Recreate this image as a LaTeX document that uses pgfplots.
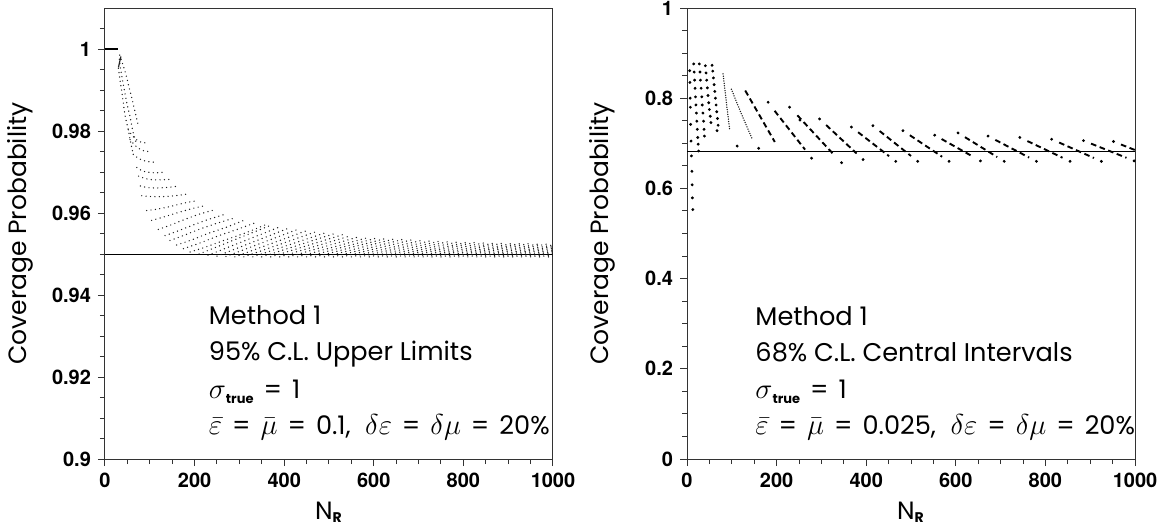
\documentclass[border=0pt]{standalone}
\usepackage{fontspec}
\setmainfont{Poppins}
\newfontfamily\tickfont{TeX Gyre Heros}
\usepackage{pgfplots}
\pgfplotsset{compat=1.18}

\pgfplotsset{
  cov/.style={
    scale only axis, width=224pt, height=225.5pt,
    xmin=0, xmax=1000,
    xtick={0,200,400,600,800,1000},
    xticklabels={0,200,400,600,800,1000},
    minor x tick num=3,
    tick pos=left, tick align=outside,
    major tick length=3.5pt, minor tick length=2.5pt,
    axis line style={black!80, line width=0.5pt},
    tick style={black!80, line width=0.5pt},
    tick label style={font=\tickfont\fontsize{10}{11}\selectfont\bfseries},
    label style={font=\fontsize{12.5}{14}\selectfont},
    xlabel={N\textsubscript{\bfseries\fontsize{7}{8}\selectfont R}},
    ylabel={Coverage Probability},
    xlabel style={at={(axis description cs:0.5,-0.118)}, anchor=center},
    ylabel style={at={(axis description cs:-0.19,0.5)}, anchor=center},
    unbounded coords=jump,
    clip mode=individual,
  },
}
\tikzset{
  dotL/.style={black!90, line width=0.7pt, line cap=round, dash pattern=on 0pt off 2.2pt},
  dotR/.style={black!90, line width=0.75pt, line cap=round, dash pattern=on 0pt off 1.2pt},
  dashR/.style={black, line width=0.95pt, dash pattern=on 2.8pt off 1.8pt},
  annot/.style={anchor=base west, inner sep=0pt, font=\fontsize{12.8}{14}\selectfont},
}
\pgfplotsset{markR/.style={only marks, mark=*, mark size=0.5pt, black}}
\newcommand{\eq}{\hspace{0.39em}=\hspace{0.39em}}
\newcommand{\gm}[1]{{\fontsize{14.5}{15}\selectfont$#1$}}
\newcommand{\sigtrue}{\gm{\sigma}\raisebox{-0.35ex}{\bfseries\fontsize{6.5}{7}\selectfont true}}

\begin{document}
\begin{tikzpicture}
\useasboundingbox (-52.5pt,-36pt) rectangle (529pt,229.5pt);

% ---------------- left panel ----------------
\begin{axis}[cov, at={(0pt,0pt)}, anchor=south west,
  ymin=0.9, ymax=1.01,
  ytick={0.9,0.92,0.94,0.96,0.98,1},
  yticklabels={0.9,0.92,0.94,0.96,0.98,1},
  minor ytick={0.905,0.91,0.915,0.925,0.93,0.935,0.945,0.95,0.955,0.965,0.97,0.975,0.985,0.99,0.995,1.005},
]
\addplot[black, line width=0.5pt] coordinates {(0,0.95) (1000,0.95)};
\addplot[black, line width=0.6pt] coordinates {(0,1) (29,1)};
\addplot[black!85, line width=0.6pt] coordinates {(30,0.9955) (35.5,0.9982)};
% early band
\addplot[dotL, smooth] coordinates {(30,0.9953)(33.5,0.9924)(37,0.9900)(41,0.9868)(45,0.9836)(52,0.9803)(56,0.9779)(63,0.9743)};
\addplot[dotL, smooth] coordinates {(32,0.9975)(35,0.9950)(39,0.9925)(44,0.9895)(50,0.9862)(56,0.9835)(62,0.9800)(70,0.9770)};
\addplot[dotL, smooth] coordinates {(33,0.9985)(36,0.9975)(42,0.9955)(48,0.9932)(54,0.9905)(60,0.9880)(66,0.9852)(75,0.9811)};
% arcs
\addplot[dotL, smooth] coordinates {(52,0.9803)(60,0.9790)(70,0.9779)(80,0.9773)(90,0.9771)};
\addplot[dotL, smooth] coordinates {(56,0.9779)(66,0.9766)(76,0.9757)(88,0.9751)(100,0.9750)};
\addplot[dotL, smooth] coordinates {(63,0.9743)(75,0.9733)(86,0.9728)(97,0.9725)(112,0.9724)};
\addplot[dotL, smooth] coordinates {(71,0.9711)(85,0.9702)(100,0.9699)(115,0.9698)(134,0.9700)};
\addplot[dotL, smooth] coordinates {(75,0.9690)(90,0.9684)(105,0.9681)(125,0.9681)(145,0.9682)};
\addplot[dotL, smooth] coordinates {(79,0.9666)(95,0.9662)(115,0.9661)(135,0.9662)(160,0.9665)};
\addplot[dotL, smooth] coordinates {(82,0.9642)(105,0.9640)(130,0.9640)(155,0.9642)(183,0.9646)};
\addplot[dotL, smooth] coordinates {(93,0.9606)(120,0.9610)(150,0.9617)(180,0.9625)(205,0.9630)};
\addplot[dotL, smooth] coordinates {(104,0.9582)(130,0.9590)(160,0.9600)(195,0.9611)(224,0.9618)};
\addplot[dotL, smooth] coordinates {(119,0.9560)(145,0.9570)(175,0.9583)(210,0.9597)(242,0.9607)};
\addplot[dotL, smooth] coordinates {(134,0.9545)(160,0.9555)(195,0.9570)(230,0.9584)(265,0.9596)};
\addplot[dotL, smooth] coordinates {(145,0.9533)(175,0.9545)(210,0.9560)(250,0.9575)(290,0.9588)};
\addplot[dotL, smooth] coordinates {(160,0.9522)(190,0.9533)(230,0.9550)(270,0.9565)(310,0.9582)};
\addplot[dotL, smooth] coordinates {(175,0.9513)(210,0.9526)(250,0.9543)(290,0.9558)(335,0.9576)};
\addplot[dotL, smooth] coordinates {(190,0.9505)(225,0.9517)(265,0.9533)(310,0.9550)(360,0.9572)};
% tail
\addplot[dotL] coordinates {
(210,0.9500)(370,0.9570)(nan,nan)
(230,0.9497)(390,0.9566)(nan,nan)
(250,0.9495)(410,0.9563)(nan,nan)
(270,0.9494)(430,0.9560)(nan,nan)
(290,0.9493)(450,0.9557)(nan,nan)
(310,0.9493)(470,0.9554)(nan,nan)
(330,0.9493)(490,0.9551)(nan,nan)
(350,0.9493)(510,0.9549)(nan,nan)
(370,0.9493)(530,0.9547)(nan,nan)
(390,0.9493)(550,0.9545)(nan,nan)
(410,0.9493)(570,0.9543)(nan,nan)
(430,0.9493)(590,0.9541)(nan,nan)
(450,0.9493)(610,0.9540)(nan,nan)
(470,0.9493)(630,0.9539)(nan,nan)
(490,0.9493)(650,0.9538)(nan,nan)
(510,0.9493)(670,0.9537)(nan,nan)
(530,0.9493)(690,0.9536)(nan,nan)
(550,0.9493)(710,0.9534)(nan,nan)
(570,0.9493)(730,0.9533)(nan,nan)
(590,0.9493)(750,0.9532)(nan,nan)
(610,0.9493)(770,0.9531)(nan,nan)
(630,0.9493)(790,0.9530)(nan,nan)
(650,0.9493)(810,0.9529)(nan,nan)
(670,0.9493)(830,0.9529)(nan,nan)
(690,0.9493)(850,0.9528)(nan,nan)
(710,0.9493)(870,0.9527)(nan,nan)
(730,0.9493)(890,0.9527)(nan,nan)
(750,0.9493)(910,0.9526)(nan,nan)
(770,0.9493)(930,0.9526)(nan,nan)
(790,0.9493)(950,0.9526)(nan,nan)
(810,0.9493)(970,0.9525)(nan,nan)
(830,0.9493)(990,0.9525)(nan,nan)
(850,0.9493)(1010,0.9524)(nan,nan)
(870,0.9493)(1030,0.9524)(nan,nan)
(890,0.9493)(1050,0.9524)(nan,nan)
(910,0.9493)(1070,0.9523)(nan,nan)
(930,0.9493)(1090,0.9523)(nan,nan)
(950,0.9493)(1110,0.9523)(nan,nan)
(970,0.9493)(1130,0.9523)(nan,nan)
(990,0.9493)(1150,0.9523)
};
\node[annot] at (axis cs:231,0.9329) {Method 1};
\node[annot] at (axis cs:231,0.9240) {95\% C.L. Upper Limits};
\node[annot] at (axis cs:231,0.9148) {\sigtrue\eq1};
\node[annot] at (axis cs:231,0.9060) {\gm{\bar{\varepsilon}}\eq\gm{\bar{\mu}}\eq0.1,\hspace{0.3em} \gm{\delta\varepsilon}\eq\gm{\delta\mu}\eq20\%};
\end{axis}

% ---------------- right panel ----------------
\begin{axis}[cov, at={(291pt,0pt)}, anchor=south west,
  ymin=0, ymax=1,
  ytick={0,0.2,0.4,0.6,0.8,1},
  yticklabels={0,0.2,0.4,0.6,0.8,1},
  minor y tick num=3,
]
\addplot[black, line width=0.5pt] coordinates {(0,0.6827) (1000,0.6827)};
\addplot[markR] coordinates {
(6,0.861)(6.5,0.835)(7,0.800)(7.5,0.780)(8,0.742)(9,0.705)(10,0.672)(11,0.638)(11.5,0.608)(12,0.579)(13,0.553)
(15,0.876)(16,0.858)(17,0.840)(18,0.822)(19,0.803)(20,0.785)(21,0.767)(22,0.749)(23,0.731)(24,0.713)(25,0.698)(26,0.683)
(27.5,0.876)(29,0.858)(30,0.840)(31.5,0.822)(33,0.803)(34,0.785)(35.5,0.767)(37,0.749)(38,0.731)(39,0.716)
(41,0.872)(42.5,0.856)(44,0.840)(45.5,0.823)(47,0.806)(48.5,0.790)(50,0.775)(52,0.760)(53.5,0.746)
(56,0.873)(57.5,0.860)(59,0.845)(60.5,0.830)(62,0.815)(63.5,0.800)(65,0.785)(66.5,0.770)(68,0.755)(69.5,0.740)
(67,0.728)(112,0.694)(160,0.689)
(181,0.791)(229,0.780)(252,0.7515)(296,0.754)(367,0.736)(415,0.739)(482,0.728)(553,0.718)(605,0.723)(672,0.716)(743,0.713)(814,0.709)(885,0.706)(952,0.704)
(278,0.667)(345,0.657)(393,0.664)(466,0.660)(515,0.660)(585,0.660)(655,0.661)(708,0.660)(780,0.660)(855,0.660)(925,0.660)(998,0.661)
};
\addplot[dotR, smooth] coordinates {(80.5,0.854)(88,0.790)(95.5,0.728)};
\addplot[dotR, smooth] coordinates {(99,0.820)(122,0.764)(145,0.711)};
\addplot[dashR] coordinates {
(130,0.817)(196,0.703)(nan,nan)
(195.6,0.772)(263.5,0.686)(nan,nan)
(246.4,0.762)(327.6,0.675)(nan,nan)
(310.6,0.7405)(378.5,0.6775)(nan,nan)
(381.9,0.7246)(451.2,0.6714)(nan,nan)
(430,0.7272)(500,0.6719)(nan,nan)
(497.5,0.7178)(569.5,0.6702)(nan,nan)
(568.3,0.7095)(639.7,0.6696)(nan,nan)
(620.5,0.7136)(692.5,0.6695)(nan,nan)
(688.2,0.7076)(763.8,0.6684)(nan,nan)
(759.8,0.7050)(838.2,0.6680)(nan,nan)
(830.7,0.7017)(908.4,0.6674)(nan,nan)
(902,0.6993)(981,0.6678)(nan,nan)
(968.7,0.6974)(1000,0.6850)
};
\node[annot] at (axis cs:152,0.2958) {Method 1};
\node[annot] at (axis cs:152,0.2171) {68\% C.L. Central Intervals};
\node[annot] at (axis cs:152,0.1340) {\sigtrue\eq1};
\node[annot] at (axis cs:152,0.0539) {\gm{\bar{\varepsilon}}\eq\gm{\bar{\mu}}\eq0.025,\hspace{0.3em} \gm{\delta\varepsilon}\eq\gm{\delta\mu}\eq20\%};
\end{axis}
\end{tikzpicture}
\end{document}
